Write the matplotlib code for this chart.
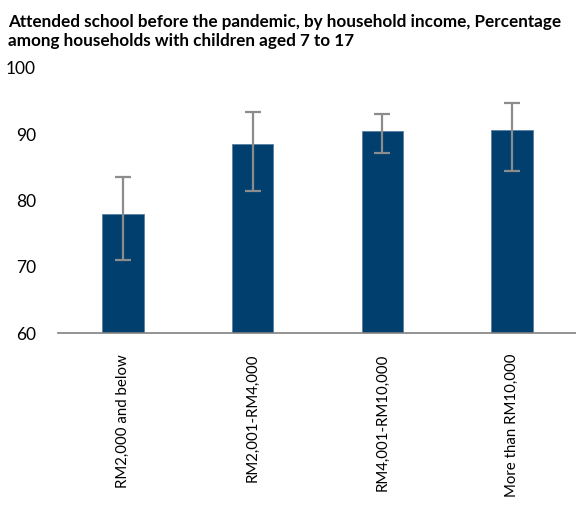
import matplotlib.pyplot as plt

categories = ["RM2,000 and below", "RM2,001-RM4,000", "RM4,001-RM10,000", "More than RM10,000"]
values = [77.9, 88.6, 90.5, 90.7]
err_low = [71.0, 81.4, 87.1, 84.5]
err_high = [83.5, 93.3, 93.0, 94.7]

plt.rcParams['font.family'] = ['Lato', 'DejaVu Sans']

fig = plt.figure(figsize=(5.76, 5.07), dpi=100)
ax = fig.add_axes([58 / 576, 1 - 333 / 507, 519 / 576, 265 / 507])

x = range(len(categories))
yerr = [[v - lo for v, lo in zip(values, err_low)],
        [hi - v for v, hi in zip(values, err_high)]]
ax.bar(x, [v - 60 for v in values], bottom=60, width=0.32, color="#003f6e",
       edgecolor="#5a7fa0", linewidth=0.6)
ax.errorbar(x, values, yerr=yerr, fmt="none", ecolor="#8c8c8c",
            elinewidth=1.6, capsize=6, capthick=1.6)

ax.set_xlim(-0.5, 3.5)
ax.set_ylim(60, 100)
ax.set_yticks([60, 70, 80, 90, 100])
ax.set_xticks(list(x))
ax.set_xticklabels(categories, rotation=90, fontsize=10.8, va="top")
ax.tick_params(axis="y", labelsize=12.5, length=0, pad=16)
ax.tick_params(axis="x", length=0, pad=15)
for s in ["top", "right", "left"]:
    ax.spines[s].set_visible(False)
ax.spines["bottom"].set_color("#808080")
ax.spines["bottom"].set_linewidth(1.2)

fig.text(8 / 576, 1 - 14 / 507,
         "Attended school before the pandemic, by household income, Percentage\namong households with children aged 7 to 17",
         fontsize=12.3, fontweight="bold", va="top", ha="left", linespacing=1.2)

fig.savefig("out.png", dpi=100)
